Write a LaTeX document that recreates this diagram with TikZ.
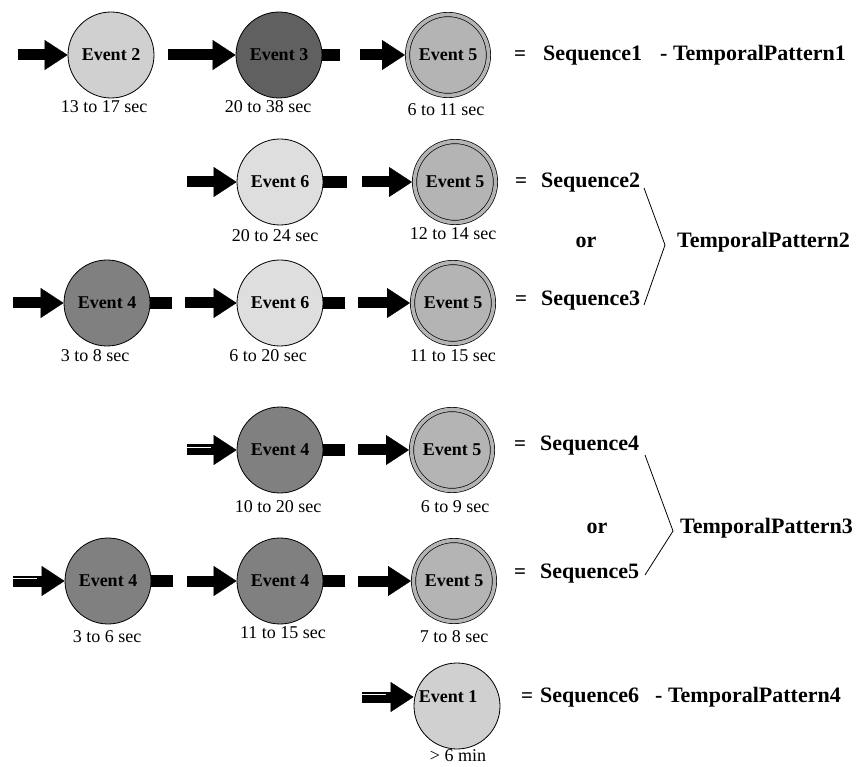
\documentclass[tikz,border=0pt]{standalone}
\usepackage{fontspec}
\setmainfont{Liberation Serif}
\usetikzlibrary{arrows.meta}
\definecolor{cLight}{HTML}{D0D0D0}
\definecolor{cPale}{HTML}{DEDEDE}
\definecolor{cDark}{HTML}{606060}
\definecolor{cMid}{HTML}{808080}
\definecolor{cFive}{HTML}{B4B4B4}
\begin{document}
\begin{tikzpicture}[x=1pt,y=-1pt,
  ev/.style={circle,draw=black,line width=0.8pt,minimum size=86pt,inner sep=0pt,
    font=\fontsize{18}{20}\selectfont\bfseries},
  evlight/.style={ev,fill=cLight},
  evpale/.style={ev,fill=cPale},
  evdark/.style={ev,fill=cDark},
  evmid/.style={ev,fill=cMid},
  evfive/.style={ev,fill=cFive,line width=0.7pt,double=cFive,double distance=3.6pt,
    minimum size=81pt,outer sep=2.5pt},
  barrow/.style={draw=black,line width=11pt,
    -{Triangle[length=23pt,width=30pt,line width=0.4pt]}},
  stubline/.style={draw=black,line width=12pt},
  hilite/.style={draw=white,line width=1pt},
  lbl/.style={font=\fontsize{22}{24}\selectfont\bfseries,inner sep=0pt,anchor=mid west},
  eqs/.style={font=\fontsize{21}{24}\selectfont\bfseries,inner sep=0pt,anchor=mid west},
  caption/.style={font=\fontsize{18}{20}\selectfont,inner sep=0pt},
  brack/.style={draw=black,line width=0.8pt}]
\useasboundingbox (0,0) rectangle (863,767);

% ---------- Row 1
\node[evlight] (r1e2) at (111,55) {Event 2};
\node[evdark]  (r1e3) at (279,55) {Event 3};
\node[evfive]  (r1e5) at (448,55) {Event 5};
\coordinate (r1a1) at (18,55);
\coordinate (r1a2) at (168,55);
\coordinate (r1s3) at (340,55);
\coordinate (r1a3) at (360,55);
\draw[barrow] (r1a1) -- (r1e2);
\draw[barrow] (r1a2) -- (r1e3);
\draw[stubline] (r1e3) -- (r1s3);
\draw[barrow] (r1a3) -- (r1e5);
\node[caption] (r1c2) at (104,107) {13 to 17 sec};
\node[caption] (r1c3) at (268,107) {20 to 38 sec};
\node[caption] (r1c5) at (446,110) {6 to 11 sec};
\node[eqs] (r1eq)  at (514,58) {=};
\node[lbl] (r1seq) at (543,58) {Sequence1};
\node[lbl] (r1tp)  at (660,58) {- TemporalPattern1};

% ---------- Row 2
\node[evpale] (r2e6) at (280,182) {Event 6};
\node[evfive] (r2e5) at (455,182) {Event 5};
\coordinate (r2a1) at (187,182);
\coordinate (r2s6) at (347,182);
\coordinate (r2a2) at (362,182);
\draw[barrow] (r2a1) -- (r2e6);
\draw[stubline] (r2e6) -- (r2s6);
\draw[barrow] (r2a2) -- (r2e5);
\node[caption] (r2c6) at (275,236) {20 to 24 sec};
\node[caption] (r2c5) at (453,234) {12 to 14 sec};
\node[eqs] (r2eq)  at (515,185) {=};
\node[lbl] (r2seq) at (541,185) {Sequence2};

% ---------- Row 3
\node[evmid]  (r3e4) at (107,303) {Event 4};
\node[evpale] (r3e6) at (280,303) {Event 6};
\node[evfive] (r3e5) at (453,303) {Event 5};
\coordinate (r3a1) at (13,303);
\coordinate (r3s4) at (172,303);
\coordinate (r3a2) at (185,303);
\coordinate (r3s6) at (345,303);
\coordinate (r3a3) at (358,303);
\draw[barrow] (r3a1) -- (r3e4);
\draw[stubline] (r3e4) -- (r3s4);
\draw[barrow] (r3a2) -- (r3e6);
\draw[stubline] (r3e6) -- (r3s6);
\draw[barrow] (r3a3) -- (r3e5);
\node[caption] (r3c4) at (95,356) {3 to 8 sec};
\node[caption] (r3c6) at (268,356) {6 to 20 sec};
\node[caption] (r3c5) at (453,356) {11 to 15 sec};
\node[eqs] (r3eq)  at (515,303) {=};
\node[lbl] (r3seq) at (541,303) {Sequence3};

% ---------- Bracket TemporalPattern2
\node[lbl,anchor=mid] (or1) at (586,245) {or};
\node[lbl] (tp2) at (677,245) {TemporalPattern2};
\coordinate (b2t) at (644,188);
\coordinate (b2v) at (665,245);
\coordinate (b2b) at (644,305);
\draw[brack] (b2t) -- (b2v) -- (b2b);

% ---------- Row 4
\node[evmid]  (r4e4) at (280,450) {Event 4};
\node[evfive] (r4e5) at (452,450) {Event 5};
\coordinate (r4a1) at (187,450);
\coordinate (r4s4) at (345,450);
\coordinate (r4a2) at (358,450);
\draw[barrow] (r4a1) -- (r4e4);
\draw[hilite] ([yshift=2.5pt]r4a1) -- ++(24,0);
\draw[stubline] (r4e4) -- (r4s4);
\draw[barrow] (r4a2) -- (r4e5);
\node[caption] (r4c4) at (278,507) {10 to 20 sec};
\node[caption] (r4c5) at (455,507) {6 to 9 sec};
\node[eqs] (r4eq)  at (514,448) {=};
\node[lbl] (r4seq) at (540,448) {Sequence4};

% ---------- Row 5
\node[evmid]  (r5e4a) at (108,581) {Event 4};
\node[evmid]  (r5e4b) at (280,581) {Event 4};
\node[evfive] (r5e5)  at (454,581) {Event 5};
\coordinate (r5a1) at (13,581);
\coordinate (r5s4a) at (173,581);
\coordinate (r5a2) at (187,581);
\coordinate (r5s4b) at (345,581);
\coordinate (r5a3) at (358,581);
\draw[barrow] (r5a1) -- (r5e4a);
\draw[hilite] ([yshift=2.5pt]r5a1) -- ++(24,0);
\draw[stubline] (r5e4a) -- (r5s4a);
\draw[barrow] (r5a2) -- (r5e4b);
\draw[stubline] (r5e4b) -- (r5s4b);
\draw[barrow] (r5a3) -- (r5e5);
\node[caption] (r5c4a) at (107,637) {3 to 6 sec};
\node[caption] (r5c4b) at (283,633) {11 to 15 sec};
\node[caption] (r5c5)  at (454,637) {7 to 8 sec};
\node[eqs] (r5eq)  at (514,576) {=};
\node[lbl] (r5seq) at (540,576) {Sequence5};

% ---------- Bracket TemporalPattern3
\node[lbl,anchor=mid] (or2) at (597,531) {or};
\node[lbl] (tp3) at (680,531) {TemporalPattern3};
\coordinate (b3t) at (645,455);
\coordinate (b3v) at (673,531);
\coordinate (b3b) at (645,575);
\draw[brack] (b3t) -- (b3v) -- (b3b);

% ---------- Row 6
\node[evlight,label={[font=\fontsize{18}{20}\selectfont\bfseries,inner sep=0pt,xshift=-9pt,yshift=9pt]center:Event 1}] (r6e1) at (457,706) {};
\coordinate (r6a1) at (362,697);
\draw[barrow] (r6a1) -- (r6e1.west |- r6a1);
\draw[hilite] ([yshift=2.5pt]r6a1) -- ++(24,0);
\node[caption] (r6c1) at (458,756) {> 6 min};
\node[eqs] (r6eq)  at (521,700) {=};
\node[lbl] (r6seq) at (540,700) {Sequence6};
\node[lbl] (r6tp)  at (655,700) {- TemporalPattern4};
\end{tikzpicture}
\end{document}
